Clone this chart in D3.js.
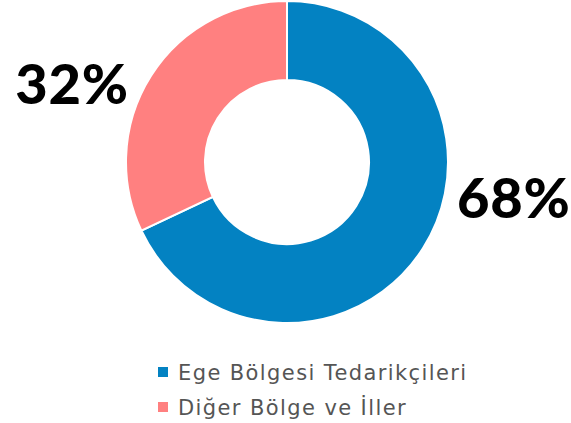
<!DOCTYPE html>
<html>
<head>
<meta charset="utf-8">
<script src="https://cdn.jsdelivr.net/npm/d3@7"></script>
<style>
  body { margin: 0; background: #fff; }
  svg { display: block; }
</style>
</head>
<body>
<svg id="chart" width="571" height="423"></svg>
<script>
// chart data
var categories = ['Ege Bölgesi Tedarikçileri', 'Diğer Bölge ve İller'];
var values = [68, 32];
var colors = ['#0382c2', '#ff8080'];

var width = 571, height = 423;
var cx = 287, cy = 162;
var outerR = 161, innerR = 82;

var svg = d3.select('#chart');

var pie = d3.pie().sort(null).value(d => d.value);
var arc = d3.arc().innerRadius(innerR).outerRadius(outerR);

var data = categories.map((c, i) => ({ name: c, value: values[i], color: colors[i] }));
var slices = pie(data);

var g = svg.append('g').attr('transform', 'translate(' + cx + ',' + cy + ')');

g.selectAll('path')
  .data(slices)
  .enter()
  .append('path')
  .attr('d', arc)
  .attr('fill', d => d.data.color)
  .attr('stroke', '#fff')
  .attr('stroke-width', 2);

function rightSide(d) {
  return Math.sin((d.startAngle + d.endAngle) / 2) > 0;
}

// percent labels, left or right of the ring depending on slice side
g.selectAll('text.pct')
  .data(slices)
  .enter()
  .append('text')
  .attr('class', 'pct')
  .attr('x', d => rightSide(d) ? outerR + 9 : -outerR + 3)
  .attr('y', d => rightSide(d) ? 56 : -58)
  .attr('text-anchor', d => rightSide(d) ? 'start' : 'end')
  .attr('font-family', 'Lato, sans-serif')
  .attr('font-weight', 900)
  .attr('font-size', 56)
  .attr('letter-spacing', 0.8)
  .attr('fill', '#000')
  .text(d => d.data.value + '%');

// legend
var legend = svg.append('g').attr('transform', 'translate(158,365)');

var items = legend.selectAll('g')
  .data(data)
  .enter()
  .append('g')
  .attr('transform', (d, i) => 'translate(0,' + i * 35 + ')');

items.append('rect')
  .attr('x', 0)
  .attr('y', 2)
  .attr('width', 10)
  .attr('height', 10)
  .attr('fill', d => d.color);

items.append('text')
  .attr('x', 20)
  .attr('y', 15)
  .attr('font-family', '"DejaVu Sans", sans-serif')
  .attr('font-size', 21)
  .attr('letter-spacing', 1.4)
  .attr('fill', '#555')
  .text(d => d.name);
</script>
</body>
</html>
